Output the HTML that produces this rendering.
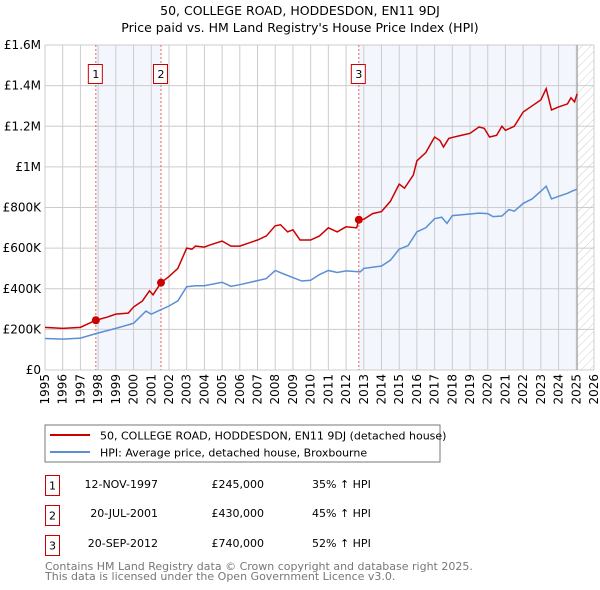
<!DOCTYPE html>
<html><head><meta charset="utf-8"><style>
body{margin:0;background:#fff;font-family:"DejaVu Sans","Liberation Sans",sans-serif;}
svg{display:block}
</style></head><body>
<svg id="c" width="600" height="590" xmlns="http://www.w3.org/2000/svg" font-family="DejaVu Sans, Liberation Sans, sans-serif">
<text x="300" y="15" text-anchor="middle" font-size="12.5">50, COLLEGE ROAD, HODDESDON, EN11 9DJ</text>
<text x="300" y="32" text-anchor="middle" font-size="12.5">Price paid vs. HM Land Registry's House Price Index (HPI)</text>
<defs><pattern id="h" width="6" height="6" patternUnits="userSpaceOnUse" patternTransform="rotate(45)"><line x1="0" y1="0" x2="0" y2="6" stroke="#ccc" stroke-width="1"/></pattern></defs>
<g id="plot"></g>
<rect x="45" y="425" width="395" height="37" fill="#fff" stroke="#777"/>
<line x1="50" y1="435" x2="90" y2="435" stroke="#cc0000" stroke-width="2"/>
<text x="100" y="439.5" font-size="11">50, COLLEGE ROAD, HODDESDON, EN11 9DJ (detached house)</text>
<line x1="50" y1="452" x2="90" y2="452" stroke="#5b8fd4" stroke-width="2"/>
<text x="100" y="456.5" font-size="11">HPI: Average price, detached house, Broxbourne</text>
<g font-size="11">
<rect x="45.5" y="475.5" width="14" height="20" fill="none" stroke="#cc0000"/><text x="52.5" y="489.5" text-anchor="middle">1</text>
<text x="158" y="488" text-anchor="end">12-NOV-1997</text><text x="264" y="488" text-anchor="end">£245,000</text><text x="312" y="488">35% ↑ HPI</text>
<rect x="45.5" y="505.5" width="14" height="20" fill="none" stroke="#cc0000"/><text x="52.5" y="519.5" text-anchor="middle">2</text>
<text x="158" y="517" text-anchor="end">20-JUL-2001</text><text x="264" y="517" text-anchor="end">£430,000</text><text x="312" y="517">45% ↑ HPI</text>
<rect x="45.5" y="535.5" width="14" height="20" fill="none" stroke="#cc0000"/><text x="52.5" y="549.5" text-anchor="middle">3</text>
<text x="158" y="547" text-anchor="end">20-SEP-2012</text><text x="264" y="547" text-anchor="end">£740,000</text><text x="312" y="547">52% ↑ HPI</text>
</g>
<text x="45" y="570" font-size="11" fill="#777">Contains HM Land Registry data © Crown copyright and database right 2025.</text>
<text x="45" y="580" font-size="11" fill="#777">This data is licensed under the Open Government Licence v3.0.</text>
</svg>
<script>
const yTicks=[0,200000,400000,600000,800000,1000000,1200000,1400000,1600000];
const yLabels=["£0","£200K","£400K","£600K","£800K","£1M","£1.2M","£1.4M","£1.6M"];
const xYears=[1995,1996,1997,1998,1999,2000,2001,2002,2003,2004,2005,2006,2007,2008,2009,2010,2011,2012,2013,2014,2015,2016,2017,2018,2019,2020,2021,2022,2023,2024,2025,2026];
const hpiT=[1995,1996,1997,1998,1999,2000,2000.7,2001,2001.5,2002,2002.5,2003,2003.5,2004,2005,2005.5,2006,2007,2007.5,2008,2008.5,2009,2009.5,2010,2010.5,2011,2011.5,2012,2012.8,2013,2014,2014.5,2015,2015.5,2016,2016.5,2017,2017.4,2017.7,2018,2019,2019.5,2020,2020.3,2020.8,2021.2,2021.5,2022,2022.5,2023,2023.3,2023.6,2024,2024.5,2024.8,2025.05];
const hpiV=[155000,152000,157000,182000,205000,230000,290000,275000,295000,315000,340000,410000,415000,415000,432000,412000,420000,440000,450000,490000,472000,455000,438000,442000,470000,490000,480000,488000,483000,500000,512000,540000,595000,612000,680000,700000,745000,752000,722000,760000,768000,772000,770000,755000,758000,790000,782000,820000,842000,880000,905000,842000,855000,870000,882000,890000];
const prT=[1995,1996,1997,1997.87,1998.5,1999,1999.7,2000,2000.5,2000.9,2001.1,2001.55,2002,2002.5,2003,2003.3,2003.5,2004,2004.3,2005,2005.5,2006,2007,2007.5,2008,2008.3,2008.7,2009,2009.4,2010,2010.5,2011,2011.5,2012,2012.6,2012.72,2013,2013.5,2014,2014.5,2015,2015.3,2015.8,2016,2016.5,2017,2017.3,2017.5,2017.8,2018,2018.5,2019,2019.5,2019.8,2020.1,2020.5,2020.8,2021,2021.5,2022,2022.5,2023,2023.3,2023.6,2024,2024.5,2024.7,2024.9,2025.05];
const prV=[210000,205000,210000,245000,260000,275000,280000,310000,340000,390000,370000,430000,460000,500000,600000,595000,610000,605000,615000,635000,610000,610000,640000,660000,710000,715000,680000,690000,640000,640000,660000,700000,680000,705000,700000,740000,742000,770000,780000,830000,915000,895000,960000,1030000,1070000,1147000,1130000,1098000,1140000,1145000,1155000,1165000,1196000,1190000,1147000,1155000,1200000,1180000,1200000,1270000,1300000,1330000,1385000,1280000,1295000,1310000,1340000,1320000,1360000];
const saleT=[1997.87,2001.55,2012.72];
const saleV=[245000,430000,740000];
const NS="http://www.w3.org/2000/svg";
const X0=45,X1=594,Y0=370,Y1=45;
const xs=t=>X0+(t-1995)/(2026-1995)*(X1-X0);
const ys=v=>Y0-v/1600000*(Y0-Y1);
const g=document.getElementById('plot');
function mk(tag,a){const e=document.createElementNS(NS,tag);for(const k in a)e.setAttribute(k,a[k]);g.appendChild(e);return e;}
let e;
e=mk('rect',{x:xs(saleT[0]),y:Y1,width:xs(saleT[1])-xs(saleT[0]),height:Y0-Y1,fill:'#f3f6fd'});


e=mk('rect',{x:xs(saleT[2]),y:Y1,width:xs(2025.05)-xs(saleT[2]),height:Y0-Y1,fill:'#f3f6fd'});


e=mk('rect',{x:xs(2025.05),y:Y1,width:X1-xs(2025.05),height:Y0-Y1,fill:'url(#h)'});


yTicks.forEach((v,i)=>{
 e=mk('line',{x1:X0,x2:X1,y1:ys(v),y2:ys(v),stroke:'#ccc','stroke-width':1});
 
 
 e=mk('text',{x:X0-4,y:ys(v)+4,'text-anchor':'end','font-size':12});
 e.textContent=yLabels[i];
 
 
});
xYears.forEach(y=>{
 e=mk('line',{x1:xs(y),x2:xs(y),y1:Y1,y2:Y0,stroke:'#ccc','stroke-width':1});
 
 
 const x=xs(y),yy=Y0+4;
 e=mk('text',{x:x+4,y:yy,'text-anchor':'end','font-size':12,transform:`rotate(-90 ${x+4} ${yy})`});
 e.textContent=y;
 
 
});
e=mk('line',{x1:xs(2025.05),x2:xs(2025.05),y1:Y1,y2:Y0,stroke:'#999','stroke-width':1});


saleT.forEach((t,i)=>{
 e=mk('line',{x1:xs(t),x2:xs(t),y1:Y1,y2:Y0,stroke:'#f06060','stroke-width':1,'stroke-dasharray':'2,2'});
 
 
 e=mk('rect',{x:xs(t)-7.5,y:64.5,width:14,height:19,fill:'#fff',stroke:'#cc0000'});
 
 
 e=mk('text',{x:xs(t),y:78,'text-anchor':'middle','font-size':11});
 e.textContent=String(i+1);
 
 
});
e=mk('polyline',{points:hpiT.map((t,i)=>xs(t)+','+ys(hpiV[i])).join(' '),fill:'none',stroke:'#5b8fd4','stroke-width':1.5});


e=mk('polyline',{points:prT.map((t,i)=>xs(t)+','+ys(prV[i])).join(' '),fill:'none',stroke:'#cc0000','stroke-width':1.5});


saleT.forEach((t,i)=>{
 e=mk('circle',{cx:xs(t),cy:ys(saleV[i]),r:4,fill:'#cc0000'});
 
 
});
</script>
</body></html>
